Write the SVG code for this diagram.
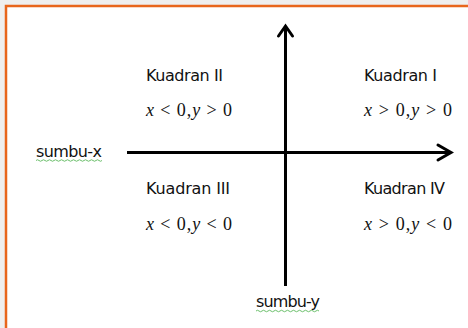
<svg xmlns="http://www.w3.org/2000/svg" width="468" height="328" viewBox="0 0 468 328">
  <defs>
    <style>
      .lbl { font-family: "DejaVu Sans", Verdana, sans-serif; font-size: 16px; fill: #111111; }
      .math { font-family: "Liberation Serif", "Times New Roman", serif; font-size: 18px; fill: #111111; }
      .it { font-style: italic; }
      .axis { stroke: #000; stroke-width: 3; fill: none; }
      .head { stroke: #000; stroke-width: 3; fill: none; stroke-linecap: round; stroke-linejoin: miter; }
      .wavy { stroke: #6cc06c; stroke-width: 1; fill: none; }
    </style>
  </defs>
  <rect x="0" y="0" width="468" height="328" fill="#efefef"/>
  <rect x="6" y="6" width="470" height="330" fill="#ffffff" stroke="#e8661c" stroke-width="2.5"/>

  <g id="connectors">
    <line class="axis" x1="127" y1="152.5" x2="450" y2="152.5"/>
    <polyline class="head" points="438,145 451,152.5 438,160"/>
    <line class="axis" x1="285.5" y1="286" x2="285.5" y2="27"/>
    <polyline class="head" points="278.5,36 285.5,26 292.5,36"/>
  </g>

  <g id="kuadran-2">
    <text class="lbl" x="146" y="81" textLength="77">Kuadran II</text>
    <text class="math" x="146" y="116" textLength="86"><tspan class="it">x</tspan> &lt; 0,<tspan class="it">y</tspan> &gt; 0</text>
  </g>
  <g id="kuadran-1">
    <text class="lbl" x="364" y="81" textLength="73">Kuadran I</text>
    <text class="math" x="364" y="116" textLength="88"><tspan class="it">x</tspan> &gt; 0,<tspan class="it">y</tspan> &gt; 0</text>
  </g>
  <g id="kuadran-3">
    <text class="lbl" x="146" y="194" textLength="84">Kuadran III</text>
    <text class="math" x="146" y="230" textLength="86"><tspan class="it">x</tspan> &lt; 0,<tspan class="it">y</tspan> &lt; 0</text>
  </g>
  <g id="kuadran-4">
    <text class="lbl" x="364" y="194" textLength="81">Kuadran IV</text>
    <text class="math" x="364" y="230" textLength="88"><tspan class="it">x</tspan> &gt; 0,<tspan class="it">y</tspan> &lt; 0</text>
  </g>

  <g id="sumbu-x">
    <text class="lbl" x="36" y="157" textLength="66">sumbu-x</text>
    <path class="wavy" d="M36,160.5 q1.5,-1.5 3,0 t3,0 t3,0 t3,0 t3,0 t3,0 t3,0 t3,0 t3,0 t3,0 t3,0 t3,0 t3,0 t3,0 t3,0 t3,0 t3,0 t3,0 t3,0 t3,0 t3,0 t3,0"/>
  </g>
  <g id="sumbu-y">
    <text class="lbl" x="256" y="307" textLength="64">sumbu-y</text>
    <path class="wavy" d="M256,311 q1.5,-1.5 3,0 t3,0 t3,0 t3,0 t3,0 t3,0 t3,0 t3,0 t3,0 t3,0 t3,0 t3,0 t3,0 t3,0 t3,0 t3,0 t3,0 t3,0 t3,0 t3,0 t3,0"/>
  </g>
</svg>
